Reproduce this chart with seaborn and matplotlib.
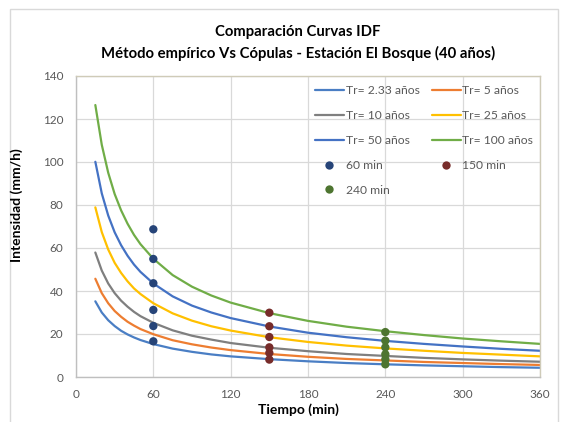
import matplotlib
matplotlib.use("Agg")
import matplotlib.pyplot as plt
from matplotlib.patches import Rectangle
import pandas as pd
import seaborn as sns

# Durations (min) at which the IDF curves are tabulated
duracion = [15, 20, 25, 30, 35, 40, 45, 50, 60, 75, 90, 105, 120, 150, 180, 210, 240, 270, 300, 330, 360]

# Intensities (mm/h) per return period
tr_2_33 = [35.2, 30.0, 26.4, 23.7, 21.5, 19.8, 18.4, 17.2, 15.3, 13.2, 11.7, 10.5, 9.6, 8.3, 7.3, 6.5, 5.9, 5.4, 5.0, 4.6, 4.3]
tr_5 = [45.7, 39.0, 34.3, 30.7, 28.0, 25.7, 23.9, 22.3, 19.9, 17.1, 15.2, 13.7, 12.5, 10.7, 9.4, 8.4, 7.7, 7.0, 6.5, 6.0, 5.6]
tr_10 = [57.9, 49.5, 43.5, 39.0, 35.5, 32.7, 30.3, 28.3, 25.2, 21.7, 19.2, 17.4, 15.8, 13.6, 12.0, 10.7, 9.8, 8.9, 8.2, 7.6, 7.1]
tr_25 = [78.9, 67.4, 59.3, 53.1, 48.4, 44.5, 41.2, 38.6, 34.3, 29.6, 26.2, 23.6, 21.6, 18.5, 16.3, 14.6, 13.3, 12.2, 11.2, 10.4, 9.6]
tr_50 = [100.1, 85.4, 75.1, 67.3, 61.3, 56.4, 52.3, 48.9, 43.5, 37.5, 33.2, 30.0, 27.4, 23.5, 20.6, 18.5, 16.8, 15.4, 14.2, 13.1, 12.2]
tr_100 = [126.5, 108.0, 95.0, 85.1, 77.5, 71.3, 66.1, 61.8, 55.0, 47.4, 42.0, 37.9, 34.6, 29.7, 26.1, 23.4, 21.3, 19.5, 17.9, 16.6, 15.4]

curvas = {
    "Tr= 2.33 años": tr_2_33,
    "Tr= 5 años": tr_5,
    "Tr= 10 años": tr_10,
    "Tr= 25 años": tr_25,
    "Tr= 50 años": tr_50,
    "Tr= 100 años": tr_100,
}

# Copula-based intensities at fixed durations
cop_60 = [68.7, 54.9, 43.6, 31.2, 23.7, 16.6]
cop_150 = [29.9, 23.6, 18.6, 13.8, 11.2, 8.1]
cop_240 = [20.9, 16.9, 13.8, 10.6, 8.2, 5.9]
puntos = {"60 min": (60, cop_60), "150 min": (150, cop_150), "240 min": (240, cop_240)}

colores_curvas = ["#4A7EC4", "#ED7D31", "#7F7F7F", "#FFC000", "#4472C4", "#70AD47"]
colores_puntos = ["#264478", "#772C2A", "#4E7530"]

sns.set_theme(style="white")
plt.rcParams["font.family"] = ["Lato", "DejaVu Sans"]

df_curvas = pd.DataFrame(
    [(d, v, k) for k, vals in curvas.items() for d, v in zip(duracion, vals)],
    columns=["Tiempo", "Intensidad", "Serie"],
)
df_puntos = pd.DataFrame(
    [(d, v, k) for k, (d, vals) in puntos.items() for v in vals],
    columns=["Tiempo", "Intensidad", "Serie"],
)

fig = plt.figure(figsize=(5.66, 4.22), dpi=100)
fig.patch.set_facecolor("white")
ax = fig.add_axes([76 / 566, 1 - 377 / 422, 464 / 566, 301 / 422])

# Outer chart frame
fig.patches.append(Rectangle((10 / 566, -0.01), 548 / 566, 1 - 9 / 422 + 0.01,
                             transform=fig.transFigure, fill=False,
                             edgecolor="#D9D9D9", linewidth=1.0))

sns.lineplot(data=df_curvas, x="Tiempo", y="Intensidad", hue="Serie",
             palette=colores_curvas, linewidth=1.6, ax=ax, legend=True, sort=False)
sns.scatterplot(data=df_puntos, x="Tiempo", y="Intensidad", hue="Serie",
                palette=colores_puntos, s=36, edgecolor="none", ax=ax, legend=True, zorder=5)

ax.set_xlim(0, 360)
ax.set_ylim(0, 140)
ax.set_xticks(range(0, 361, 60))
ax.set_yticks(range(0, 141, 20))
ax.grid(True, color="#D9D9D9", linewidth=0.9)
ax.set_axisbelow(True)
ax.tick_params(axis="both", labelsize=8.5, colors="#595959", length=0, pad=9)
for side in ["top", "right"]:
    ax.spines[side].set_color("#CFCBB8")
    ax.spines[side].set_linewidth(1.0)
for side in ["left", "bottom"]:
    ax.spines[side].set_color("#BFBFBF")
    ax.spines[side].set_linewidth(1.0)
ax.set_xlabel("")
ax.set_ylabel("")

fig.text(0.527, 1 - 410 / 422, "Tiempo (min)", ha="center", va="center",
         fontsize=10, fontweight="bold", color="#000000")
fig.text(0.030, 1 - 205 / 422, "Intensidad (mm/h)", ha="center", va="center",
         rotation=90, fontsize=10, fontweight="bold", color="#000000")
fig.text(0.526, 1 - 32 / 422, "Comparación Curvas IDF", ha="center", va="center",
         fontsize=10.7, fontweight="bold", color="#000000")
fig.text(0.526, 1 - 53 / 422, "Método empírico Vs Cópulas - Estación El Bosque (40 años)",
         ha="center", va="center", fontsize=10.7, fontweight="bold", color="#000000")

handles, labels = ax.get_legend_handles_labels()
order = [0, 2, 4, 6, 8, 1, 3, 5, 7]
leg = ax.legend([handles[i] for i in order], [labels[i] for i in order],
                ncol=2, loc="upper right", bbox_to_anchor=(1.005, 1.0),
                frameon=False, fontsize=8.7, handlelength=2.4, handletextpad=0.15,
                labelspacing=1.15, columnspacing=1.0, borderaxespad=0.35)
for t in leg.get_texts():
    t.set_color("#595959")

fig.savefig("out.png", dpi=100, facecolor="white")
